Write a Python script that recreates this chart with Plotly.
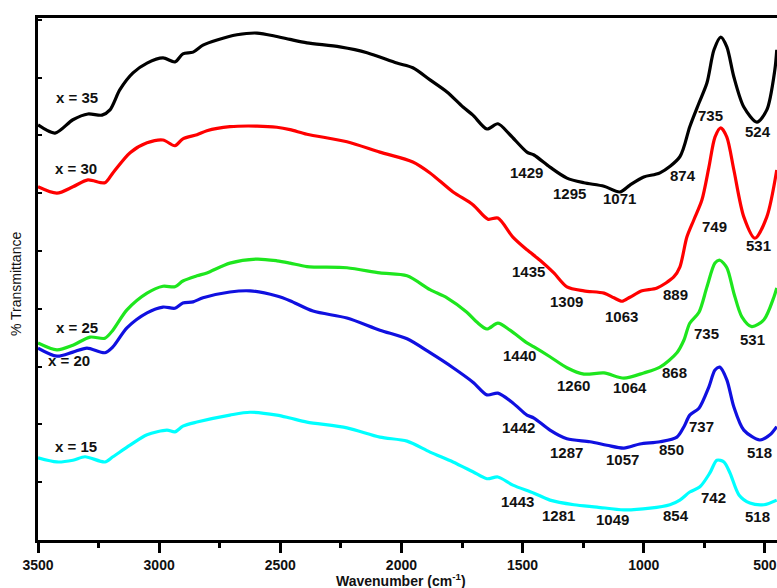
import plotly.graph_objects as go

# ---------------- data (wavenumber in cm^-1, transmittance in arbitrary % units) ----------------
wn_35 = [3500,3430,3356,3294,3236,3203,3162,3108,3050,2984,2935,2902,2860,2819,2761,2679,2596,2514,2460,2390,
         2254,2142,2019,1953,1882,1812,1746,1705,1647,1602,1552,1482,1453,1387,1317,1247,1164,1098,1057,1000,
         933,851,810,772,739,710,682,657,628,587,533,492,459,451]
t_35 = [71.8,70.4,72.7,73.7,73.5,74.4,77.9,80.8,82.5,83.4,82.7,84.1,84.4,85.6,86.5,87.4,87.7,87.1,86.6,86.0,
        85.3,84.3,82.5,81.7,79.6,77.5,74.9,73.5,71.1,72.0,70.1,67.1,66.6,64.5,62.6,61.8,61.2,60.2,61.4,62.8,
        63.5,66.3,71.5,75.6,79.1,84.8,87.0,85.3,80.1,74.9,72.3,74.4,81.3,84.8]

wn_30 = [3500,3422,3356,3294,3224,3191,3120,3050,2984,2935,2902,2844,2803,2708,2596,2514,2460,2390,2225,2089,
         1953,1882,1787,1705,1643,1602,1540,1482,1428,1371,1317,1247,1164,1123,1090,1057,1007,945,876,851,
         822,793,760,731,706,682,657,628,587,541,492,451]
t_30 = [61.1,60.0,61.1,62.3,61.8,63.5,67.0,68.7,69.2,68.2,69.4,70.1,70.8,71.5,71.6,71.4,71.0,70.2,68.9,67.1,
        65.4,63.5,60.2,58.0,55.5,55.7,52.4,50.2,48.4,46.2,43.8,43.1,42.7,41.9,41.3,42.0,43.1,43.6,45.5,47.2,
        52.4,55.4,58.8,64.5,69.7,71.3,69.7,64.0,55.9,52.2,55.9,64.0]

wn_25 = [3500,3422,3356,3285,3224,3191,3133,3050,2984,2935,2902,2844,2803,2708,2596,2514,2460,2390,2225,2089,
         1977,1882,1812,1730,1689,1647,1602,1552,1482,1453,1387,1317,1247,1164,1082,1000,933,863,834,810,
         772,739,706,686,657,628,595,554,504,463,451]
t_25 = [34.1,32.9,33.7,35.1,34.9,36.3,39.8,42.7,43.9,43.8,44.8,45.7,46.2,47.9,48.6,48.3,47.9,47.3,47.1,46.2,
        45.7,43.3,41.9,39.4,37.7,36.5,37.5,36.3,34.1,33.4,31.7,29.8,28.7,28.9,28.0,28.9,29.9,32.4,34.6,37.5,
        39.4,43.8,47.9,48.4,47.1,42.7,38.6,36.9,38.1,42.0,43.6]

wn_20 = [3500,3422,3356,3298,3224,3191,3133,3050,2984,2935,2902,2860,2819,2708,2625,2514,2460,2365,2225,2089,
         1977,1882,1787,1705,1647,1602,1540,1482,1453,1387,1317,1222,1152,1082,1016,933,863,834,810,772,
         731,706,686,657,628,587,521,479,451]
t_20 = [33.2,31.8,32.5,33.2,32.4,33.4,36.7,39.3,40.3,40.1,41.0,41.2,41.9,42.9,43.1,42.2,41.4,39.6,38.4,36.3,
        34.8,32.4,29.8,27.3,25.1,25.4,23.7,21.6,21.1,19.0,17.5,17.0,16.4,15.9,16.6,17.0,17.8,19.6,21.6,22.8,
        26.5,29.4,29.9,27.7,23.0,19.0,17.3,18.2,19.6]

wn_15 = [3500,3422,3356,3306,3224,3191,3120,3050,2968,2935,2902,2844,2708,2625,2514,2460,2390,2225,2089,1977,
         1882,1787,1705,1647,1602,1540,1453,1387,1288,1193,1082,974,892,851,810,768,727,698,669,644,
         607,562,504,451]
t_15 = [14.2,13.5,13.8,14.4,13.5,14.4,16.4,18.2,19.0,18.7,19.7,20.4,21.6,22.1,21.6,21.1,20.4,19.4,17.8,17.1,
        15.2,13.5,11.8,10.6,10.9,9.5,8.1,6.9,6.1,5.7,5.2,5.5,6.1,6.9,8.3,9.2,11.6,13.8,13.5,11.6,
        7.8,6.4,6.1,6.9]

series_names = ["x = 35", "x = 30", "x = 25", "x = 20", "x = 15"]
series_wn = [wn_35, wn_30, wn_25, wn_20, wn_15]
series_t = [t_35, t_30, t_25, t_20, t_15]
series_colors = ["#000000", "#ff0000", "#1ee61e", "#1010e0", "#00ffff"]

# series name labels: (text, wavenumber, transmittance)
name_labels = [("x = 35", 3339, 76.5), ("x = 30", 3343, 64.2), ("x = 25", 3339, 36.7),
               ("x = 20", 3372, 31.0), ("x = 15", 3343, 16.1)]

# band labels: (text, wavenumber, transmittance)
band_labels = [
    ("1429", 1482, 63.5), ("1295", 1305, 60.0), ("1071", 1102, 59.0), ("874", 838, 63.1), ("735", 723, 73.5), ("524", 529, 70.6),
    ("1435", 1474, 46.4), ("1309", 1317, 41.2), ("1063", 1090, 38.6), ("889", 867, 42.4), ("749", 710, 54.2), ("531", 525, 51.0),
    ("1440", 1511, 32.0), ("1260", 1288, 26.8), ("1064", 1057, 26.3), ("868", 875, 28.9), ("735", 739, 35.8), ("531", 550, 34.6),
    ("1442", 1515, 19.4), ("1287", 1317, 15.2), ("1057", 1086, 14.0), ("850", 884, 15.6), ("737", 760, 19.6), ("518", 521, 15.2),
    ("1443", 1519, 6.6), ("1281", 1350, 4.3), ("1049", 1127, 3.5), ("854", 867, 4.3), ("742", 714, 7.4), ("518", 529, 4.0),
]

x_ticks = [3500, 3000, 2500, 2000, 1500, 1000, 500]

# ---------------- figure ----------------
fig = go.Figure()
for name, xs, ys, col in zip(series_names, series_wn, series_t, series_colors):
    fig.add_trace(go.Scatter(x=xs, y=ys, mode="lines", name=name,
                             line=dict(color=col, width=3.2, shape="spline", smoothing=0.8),
                             showlegend=False, hoverinfo="skip"))

FONT = "Liberation Sans, Arial, sans-serif"
annotations = []
for txt, x, y in name_labels:
    annotations.append(dict(x=x, y=y, xref="x", yref="y", text=txt, showarrow=False,
                            font=dict(family=FONT, size=15, color="#111", weight="bold")))
for txt, x, y in band_labels:
    annotations.append(dict(x=x, y=y, xref="x", yref="y", text=txt, showarrow=False,
                            font=dict(family=FONT, size=15, color="#111", weight="bold")))
annotations.append(dict(x=2000, y=-0.076, xref="x", yref="paper", text="Wavenumber (cm<sup>-1</sup>)",
                        showarrow=False, xanchor="center", yanchor="middle",
                        font=dict(family=FONT, size=14, color="#111", weight="bold")))
annotations.append(dict(x=-0.03, y=0.49, xref="paper", yref="paper", text="% Transmittance",
                        showarrow=False, textangle=-90, xanchor="center", yanchor="middle",
                        font=dict(family=FONT, size=14, color="#111")))

fig.update_layout(
    width=777, height=588,
    margin=dict(l=38, r=0, t=18, b=48),
    paper_bgcolor="white", plot_bgcolor="white",
    annotations=annotations,
    xaxis=dict(range=[3500, 450], tickvals=x_ticks, ticktext=[str(v) for v in x_ticks],
               showgrid=False, zeroline=False, showline=True, linecolor="black", linewidth=3,
               mirror=True, ticks="outside", ticklen=10, tickwidth=3, tickcolor="black",
               minor=dict(dtick=250, tick0=3250, ticks="outside", ticklen=5, tickwidth=3, tickcolor="black", showgrid=False),
               tickfont=dict(family=FONT, size=14, color="#111", weight="bold")),
    yaxis=dict(range=[0, 90.3], tickvals=list(range(0, 91, 10)), showticklabels=False,
               showgrid=False, zeroline=False, showline=True, linecolor="black", linewidth=3,
               ticks="inside", ticklen=4, tickwidth=2, tickcolor="black"),
)

fig.write_html("out.html")
